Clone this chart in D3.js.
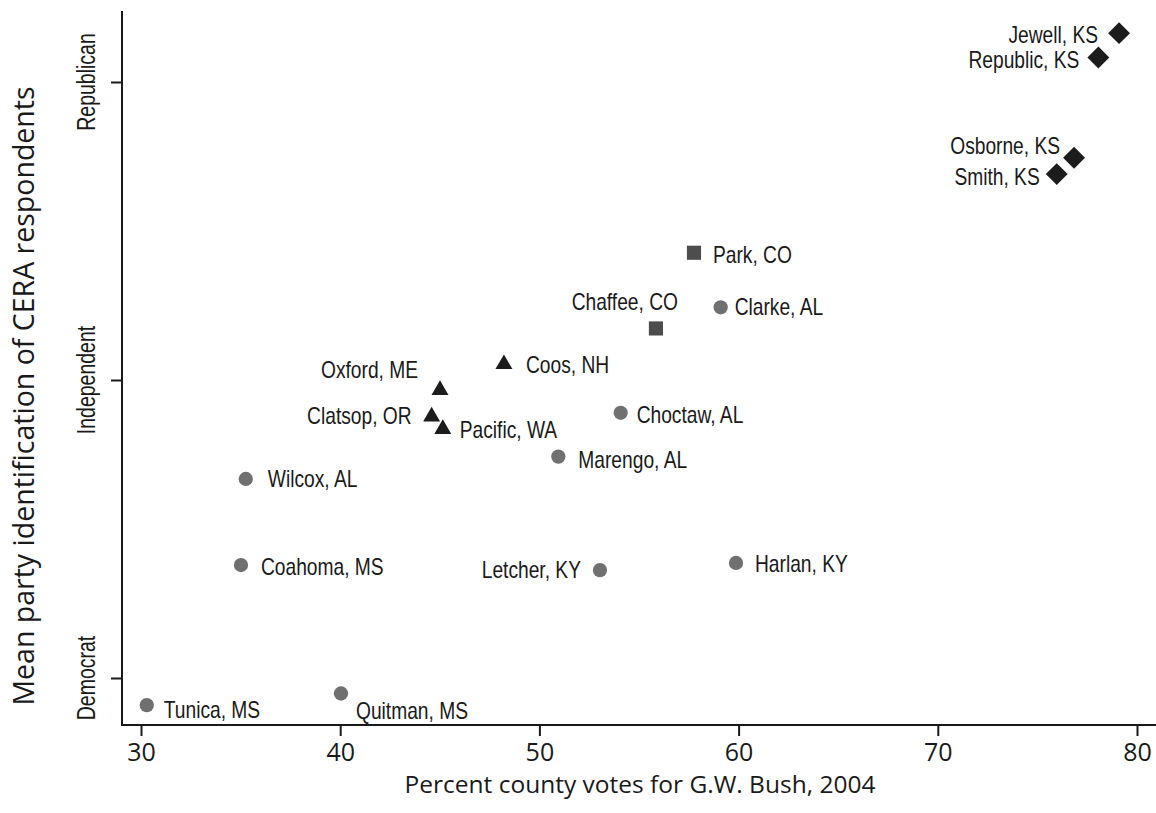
<!DOCTYPE html>
<html>
<head>
<meta charset="utf-8">
<script src="https://cdn.jsdelivr.net/npm/d3@7"></script>
<style>
  html, body { margin: 0; padding: 0; background: #fff; }
  svg { display: block; }
  .lbl { font-family: "Liberation Sans", Arial, sans-serif; font-size: 24px; fill: #1a1a1a; }
  .tick text { font-family: "Open Sans", "Noto Sans", sans-serif; font-size: 25px; fill: #1a1a1a; }
  .ytick { font-family: "Liberation Sans", Arial, sans-serif; font-size: 25px; fill: #1a1a1a; }
  .title { font-family: "Open Sans", "Noto Sans", sans-serif; fill: #1a1a1a; }
</style>
</head>
<body>
<script>
// ---- data ----
const counties = ["Jewell, KS","Republic, KS","Osborne, KS","Smith, KS","Park, CO","Chaffee, CO",
  "Clarke, AL","Coos, NH","Oxford, ME","Clatsop, OR","Pacific, WA","Choctaw, AL","Marengo, AL",
  "Wilcox, AL","Coahoma, MS","Letcher, KY","Harlan, KY","Tunica, MS","Quitman, MS"];
const bushPct = [79.1, 78.06, 76.84, 75.97, 57.76, 55.85, 59.1, 48.22, 45.01, 44.59, 45.15, 54.08, 50.95,
  35.26, 35.02, 53.04, 59.87, 30.29, 40.04];
// 1 = Democrat, 2 = Independent, 3 = Republican
const partyId = [3.164, 3.082, 2.746, 2.691, 2.427, 2.173, 2.244, 2.053, 1.966, 1.877, 1.835, 1.89, 1.743,
  1.668, 1.379, 1.362, 1.386, 0.909, 0.948];
const group = ["plains","plains","plains","plains","mountain","mountain","south","north","north","north","north",
  "south","south","south","south","south","south","south","south"];
const xTicks = [30, 40, 50, 60, 70, 80];
const yTickValues = [1, 2, 3];
const yTickLabels = ["Democrat", "Independent", "Republican"];
const xTitle = "Percent county votes for G.W. Bush, 2004";
const yTitle = "Mean party identification of CERA respondents";

// ---- layout (not data) ----
const labelPlace = {
  "Jewell, KS": ["end", -21, 10], "Republic, KS": ["end", -19, 10], "Osborne, KS": ["end", -14, -4],
  "Smith, KS": ["end", -17, 11], "Park, CO": ["start", 19, 10], "Chaffee, CO": ["end", 22, -18],
  "Clarke, AL": ["start", 14, 8], "Coos, NH": ["start", 22, 9], "Oxford, ME": ["end", -22, -12],
  "Clatsop, OR": ["end", -20, 7], "Pacific, WA": ["start", 17, 9], "Choctaw, AL": ["start", 16, 10],
  "Marengo, AL": ["start", 20, 11], "Wilcox, AL": ["start", 22, 8], "Coahoma, MS": ["start", 20, 10],
  "Letcher, KY": ["end", -19, 8], "Harlan, KY": ["start", 19, 9], "Tunica, MS": ["start", 17, 13],
  "Quitman, MS": ["start", 15, 26]
};
const symStyle = {
  plains:   {type: d3.symbolSquare, size: 240, rotate: 45, fill: "#1c1c1c"},
  mountain: {type: d3.symbolSquare, size: 200, rotate: 0, fill: "#4d4d4d"},
  north:    {type: d3.symbolTriangle, size: 125, rotate: 0, fill: "#1c1c1c"},
  south:    {type: d3.symbolCircle, size: 160, rotate: 0, fill: "#707070"}
};
const narrow = 0.8;   // condensed look for point labels
const narrowY = 0.78; // condensed look for y tick labels

const W = 1156, H = 813;
const plotLeft = 122, plotRight = 1156, plotTop = 11, plotBottom = 725;

const svg = d3.select("body").append("svg").attr("width", W).attr("height", H);

const x = d3.scaleLinear().domain([30, 80]).range([141, 1137]);
const y = d3.scaleLinear().domain([1, 3]).range([678, 82]);

// axes
const xAxis = d3.axisBottom(x).tickValues(xTicks).tickSize(11).tickPadding(7).tickFormat(d3.format("d"));
const gx = svg.append("g").attr("transform", `translate(0,${plotBottom})`).call(xAxis);
gx.select(".domain").remove();
gx.selectAll(".tick line").attr("stroke", "#1a1a1a").attr("stroke-width", 2);

const yAxis = d3.axisLeft(y).tickValues(yTickValues).tickSize(11).tickFormat("");
const gy = svg.append("g").attr("transform", `translate(${plotLeft},0)`).call(yAxis);
gy.select(".domain").remove();
gy.selectAll(".tick line").attr("stroke", "#1a1a1a").attr("stroke-width", 2);

// y tick labels, rotated
svg.append("g").selectAll("text").data(yTickValues).join("text")
  .attr("class", "ytick")
  .attr("transform", d => `translate(95,${y(d)}) rotate(-90) scale(${narrowY},1)`)
  .attr("text-anchor", "middle")
  .text((d, i) => yTickLabels[i]);

// axis lines
svg.append("line").attr("x1", plotLeft).attr("x2", plotLeft).attr("y1", plotTop).attr("y2", plotBottom + 1)
  .attr("stroke", "#1a1a1a").attr("stroke-width", 2);
svg.append("line").attr("x1", plotLeft).attr("x2", plotRight).attr("y1", plotBottom).attr("y2", plotBottom)
  .attr("stroke", "#1a1a1a").attr("stroke-width", 2);

// titles
svg.append("text").attr("class", "title").attr("x", 640).attr("y", 793)
  .attr("text-anchor", "middle").style("font-size", "24.5px").text(xTitle);
svg.append("text").attr("class", "title")
  .attr("transform", `translate(34,396) rotate(-90)`)
  .attr("text-anchor", "middle").style("font-size", "28.5px").text(yTitle);

// points
const idx = d3.range(counties.length);
svg.append("g").selectAll("path").data(idx).join("path")
  .attr("d", i => d3.symbol().type(symStyle[group[i]].type).size(symStyle[group[i]].size)())
  .attr("transform", i => `translate(${x(bushPct[i])},${y(partyId[i])}) rotate(${symStyle[group[i]].rotate})`)
  .attr("fill", i => symStyle[group[i]].fill);

// labels
svg.append("g").selectAll("text").data(idx).join("text")
  .attr("class", "lbl")
  .attr("transform", i => `translate(${x(bushPct[i]) + labelPlace[counties[i]][1]},${y(partyId[i]) + labelPlace[counties[i]][2]}) scale(${narrow},1)`)
  .attr("text-anchor", i => labelPlace[counties[i]][0])
  .text(i => counties[i]);
</script>
</body>
</html>
